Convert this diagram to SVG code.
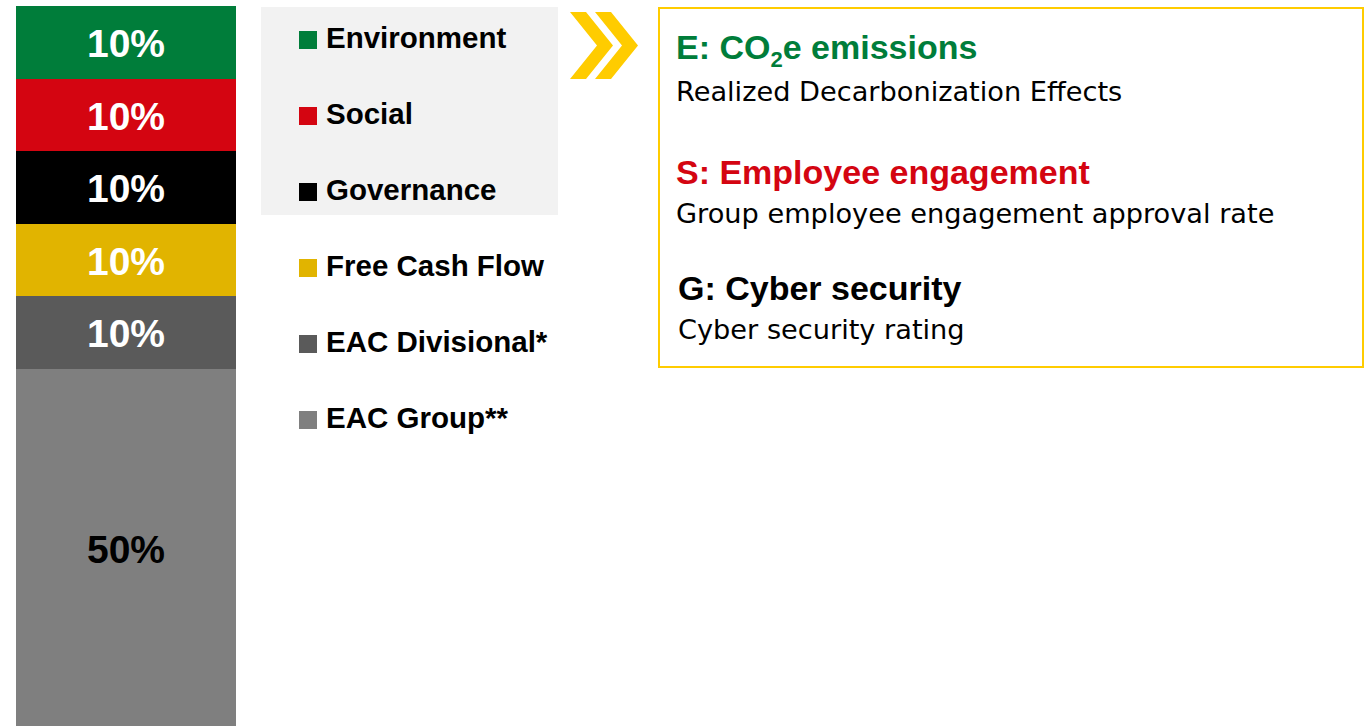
<svg xmlns="http://www.w3.org/2000/svg" width="1365" height="726" viewBox="0 0 1365 726">
<style>
.pct{font-family:"Liberation Sans",Arial,sans-serif;font-weight:bold;font-size:39px;text-anchor:middle;fill:#fff}
.leg{font-family:"Liberation Sans",Arial,sans-serif;font-weight:bold;font-size:29.5px;fill:#000}
.ttl{font-family:"Liberation Sans",Arial,sans-serif;font-weight:bold;font-size:34px}
.sub{font-family:"DejaVu Sans",sans-serif;font-size:27.2px;fill:#000}
</style>
<rect width="1365" height="726" fill="#fff"/>
<g id="bar">
<rect x="16" y="6" width="220" height="73" fill="#007D3A"/>
<rect x="16" y="79" width="220" height="72" fill="#D40511"/>
<rect x="16" y="151" width="220" height="73" fill="#000"/>
<rect x="16" y="224" width="220" height="72" fill="#E1B400"/>
<rect x="16" y="296" width="220" height="73" fill="#5A5A5A"/>
<rect x="16" y="369" width="220" height="357" fill="#7F7F7F"/>
<text class="pct" x="126" y="57">10%</text>
<text class="pct" x="126" y="129.5">10%</text>
<text class="pct" x="126" y="202">10%</text>
<text class="pct" x="126" y="274.5">10%</text>
<text class="pct" x="126" y="347">10%</text>
<text class="pct" x="126" y="563" style="fill:#000">50%</text>
</g>
<g id="legend">
<rect x="261" y="7" width="297" height="208" fill="#F2F2F2"/>
<rect x="299" y="31" width="18" height="18" fill="#007D3A"/>
<text class="leg" x="326" y="48">Environment</text>
<rect x="299" y="107" width="18" height="18" fill="#D40511"/>
<text class="leg" x="326" y="124">Social</text>
<rect x="299" y="183" width="18" height="18" fill="#000"/>
<text class="leg" x="326" y="200">Governance</text>
<rect x="299" y="259" width="18" height="18" fill="#E1B400"/>
<text class="leg" x="326" y="276">Free Cash Flow</text>
<rect x="299" y="335" width="18" height="18" fill="#5A5A5A"/>
<text class="leg" x="326" y="352">EAC Divisional*</text>
<rect x="299" y="411" width="18" height="18" fill="#7F7F7F"/>
<text class="leg" x="326" y="428">EAC Group**</text>
</g>
<g id="chevron" fill="#FFCC00">
<polygon points="570,12 586,12 613,45.5 586,79 570,79 597,45.5"/>
<polygon points="595,12 611,12 638,45.5 611,79 595,79 622,45.5"/>
</g>
<g id="esg-box">
<rect x="659" y="8" width="704" height="359" fill="none" stroke="#FFCC00" stroke-width="2"/>
<text class="ttl" x="676" y="59" fill="#007D3A">E: CO<tspan font-size="22" dy="8">2</tspan><tspan dy="-8">e emissions</tspan></text>
<text class="sub" x="676" y="101">Realized Decarbonization Effects</text>
<text class="ttl" x="676" y="184" fill="#D40511">S: Employee engagement</text>
<text class="sub" x="676" y="223">Group employee engagement approval rate</text>
<text class="ttl" x="678" y="300" fill="#000">G: Cyber security</text>
<text class="sub" x="678" y="339">Cyber security rating</text>
</g>
</svg>
